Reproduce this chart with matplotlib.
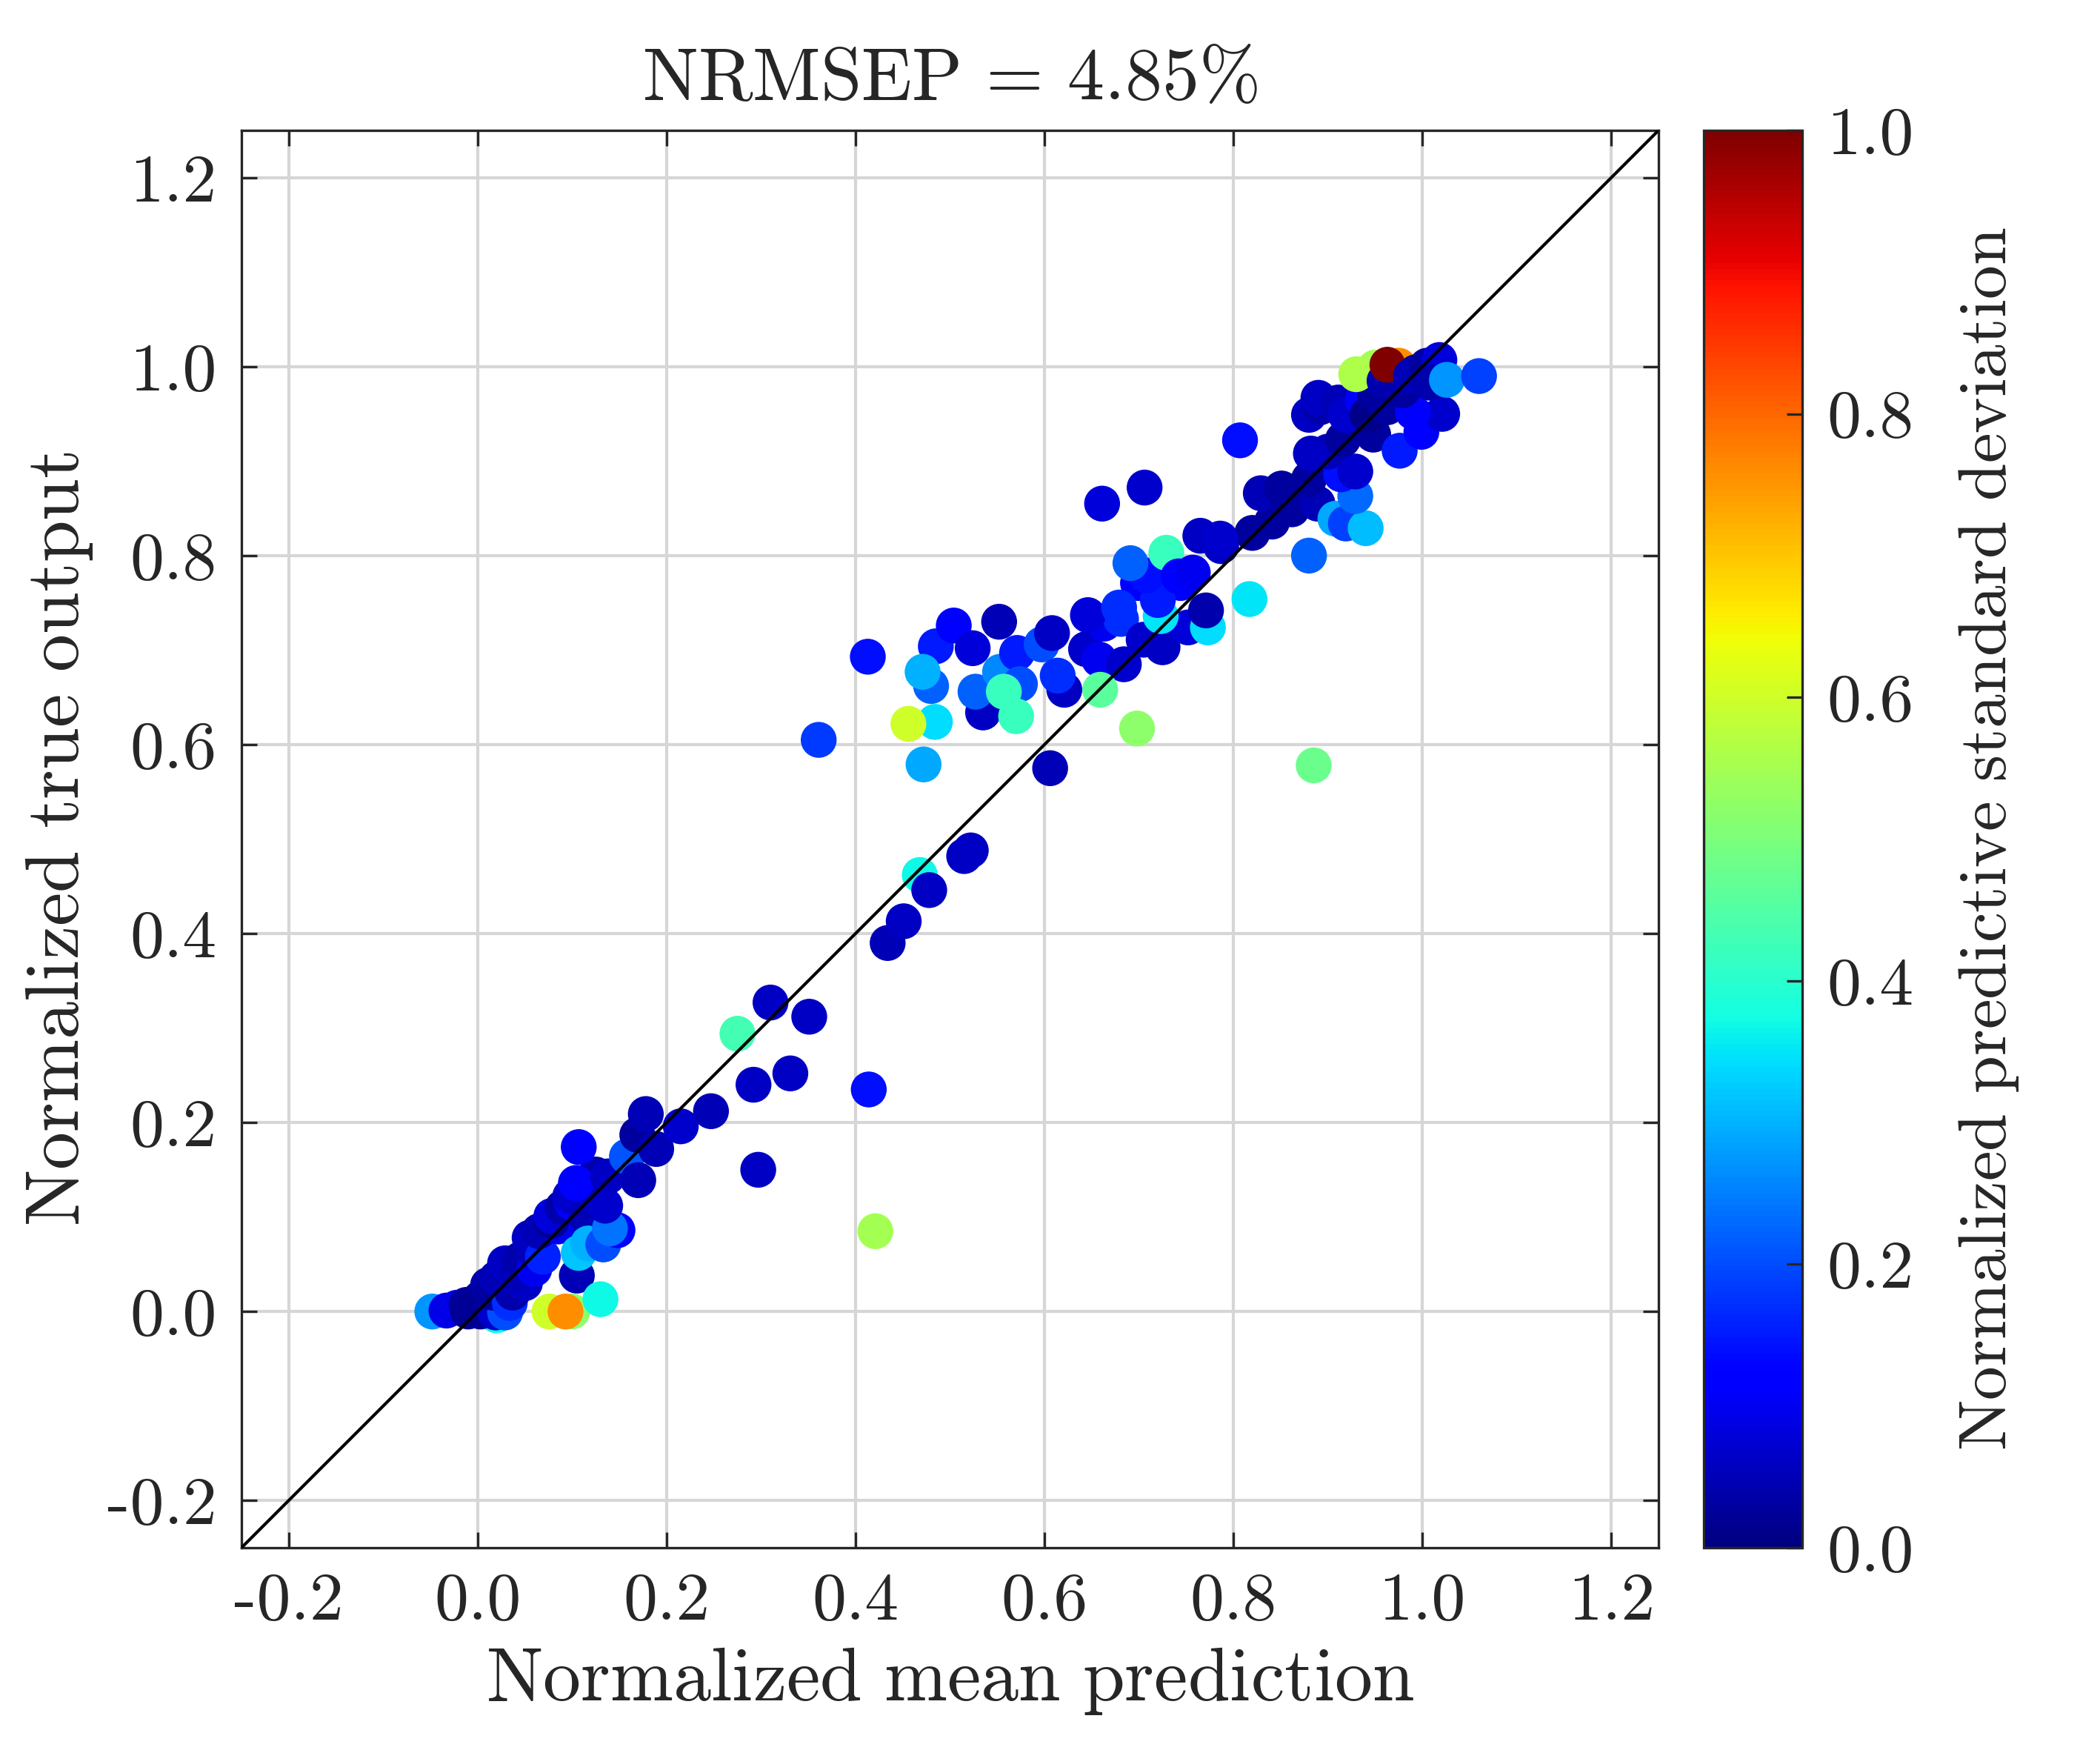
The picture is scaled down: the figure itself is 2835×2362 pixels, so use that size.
import numpy as np
import matplotlib
matplotlib.use("Agg")
import matplotlib.pyplot as plt

plt.rcParams['font.family'] = 'cmr10'
plt.rcParams['mathtext.fontset'] = 'cm'
plt.rcParams['axes.unicode_minus'] = False

# ---- data: (normalized mean prediction, normalized true output, normalized predictive std) ----
points = [
    # lower cluster
    (0.020, -0.004, 0.37), (-0.048, 0.000, 0.27), (-0.033, 0.001, 0.09), (-0.022, 0.004, 0.09),
    (-0.012, 0.007, 0.03), (-0.010, 0.000, 0.02), (0.003, 0.000, 0.02), (0.003, 0.014, 0.02),
    (0.019, -0.001, 0.07), (0.029, -0.001, 0.20), (0.011, 0.028, 0.04), (0.016, 0.020, 0.03),
    (0.034, 0.009, 0.17), (0.037, 0.020, 0.04), (0.020, 0.035, 0.05), (0.050, 0.030, 0.06),
    (0.029, 0.051, 0.06), (0.042, 0.041, 0.05), (0.045, 0.055, 0.04), (0.060, 0.045, 0.10),
    (0.060, 0.065, 0.05), (0.055, 0.078, 0.06), (0.069, 0.058, 0.16), (0.065, 0.085, 0.05),
    (0.085, 0.090, 0.10), (0.078, 0.096, 0.02), (0.078, 0.101, 0.08), (0.090, 0.110, 0.04),
    (0.100, 0.115, 0.12), (0.098, 0.122, 0.07), (0.115, 0.100, 0.05), (0.120, 0.125, 0.06),
    (0.125, 0.145, 0.04), (0.104, 0.136, 0.11), (0.107, 0.174, 0.12), (0.105, 0.038, 0.05),
    (0.107, 0.062, 0.32), (0.117, 0.072, 0.30), (0.133, 0.071, 0.20), (0.148, 0.086, 0.11),
    (0.140, 0.088, 0.24), (0.135, 0.112, 0.07), (0.138, 0.143, 0.06), (0.158, 0.164, 0.21),
    (0.170, 0.139, 0.05), (0.169, 0.187, 0.03), (0.178, 0.209, 0.05), (0.189, 0.172, 0.05),
    (0.100, 0.000, 0.52), (0.076, 0.000, 0.60), (0.093, 0.000, 0.76), (0.130, 0.013, 0.37),
    # middle
    (0.215, 0.196, 0.07), (0.247, 0.212, 0.05), (0.275, 0.294, 0.43), (0.310, 0.327, 0.06),
    (0.351, 0.312, 0.06), (0.292, 0.240, 0.06), (0.331, 0.252, 0.06), (0.297, 0.150, 0.06),
    (0.414, 0.235, 0.14), (0.421, 0.085, 0.55), (0.434, 0.390, 0.05), (0.451, 0.413, 0.06),
    (0.468, 0.462, 0.37), (0.478, 0.446, 0.06), (0.515, 0.482, 0.06), (0.522, 0.488, 0.06),
    (0.361, 0.605, 0.18), (0.413, 0.693, 0.14), (0.485, 0.704, 0.15), (0.504, 0.726, 0.12),
    (0.524, 0.702, 0.08), (0.552, 0.730, 0.05), (0.480, 0.662, 0.22), (0.471, 0.677, 0.30),
    (0.484, 0.624, 0.34), (0.456, 0.622, 0.60), (0.472, 0.579, 0.29), (0.535, 0.634, 0.06),
    (0.527, 0.656, 0.22), (0.553, 0.677, 0.26), (0.571, 0.697, 0.15), (0.574, 0.664, 0.20),
    (0.557, 0.656, 0.42), (0.570, 0.630, 0.42), (0.597, 0.706, 0.20), (0.608, 0.718, 0.06),
    (0.621, 0.658, 0.06), (0.614, 0.673, 0.17), (0.606, 0.575, 0.05), (0.644, 0.701, 0.07),
    (0.658, 0.690, 0.10), (0.663, 0.728, 0.10), (0.681, 0.733, 0.17), (0.684, 0.685, 0.07),
    (0.659, 0.658, 0.46), (0.698, 0.617, 0.52), (0.705, 0.711, 0.07), (0.725, 0.703, 0.06),
    (0.752, 0.724, 0.08), (0.773, 0.724, 0.34), (0.771, 0.742, 0.04), (0.699, 0.771, 0.12),
    (0.744, 0.771, 0.12), (0.723, 0.736, 0.35), (0.720, 0.753, 0.15), (0.646, 0.737, 0.08),
    (0.679, 0.745, 0.17), (0.708, 0.779, 0.14), (0.691, 0.792, 0.22), (0.729, 0.803, 0.42),
    (0.742, 0.778, 0.12), (0.757, 0.782, 0.10), (0.765, 0.821, 0.06), (0.787, 0.810, 0.06),
    (0.817, 0.754, 0.35), (0.885, 0.578, 0.48), (0.661, 0.855, 0.08), (0.706, 0.872, 0.07),
    (0.807, 0.922, 0.14),
    # upper cluster
    (0.820, 0.824, 0.03), (0.841, 0.836, 0.03), (0.829, 0.866, 0.05), (0.851, 0.871, 0.03),
    (0.862, 0.849, 0.03), (0.889, 0.855, 0.05), (0.880, 0.881, 0.03), (0.786, 0.818, 0.07),
    (0.880, 0.800, 0.22), (0.908, 0.839, 0.29), (0.919, 0.834, 0.19), (0.940, 0.829, 0.31),
    (0.929, 0.863, 0.23), (0.914, 0.886, 0.14), (0.929, 0.889, 0.07), (0.900, 0.910, 0.05),
    (0.882, 0.908, 0.06), (0.916, 0.923, 0.03), (0.948, 0.928, 0.03), (0.880, 0.949, 0.06),
    (0.892, 0.957, 0.04), (0.890, 0.967, 0.06), (0.911, 0.962, 0.05), (0.919, 0.949, 0.07),
    (0.937, 0.965, 0.11), (0.942, 0.949, 0.01), (0.963, 0.957, 0.03), (0.976, 0.911, 0.15),
    (0.999, 0.931, 0.12), (1.003, 0.944, 0.12), (1.021, 0.950, 0.07), (0.990, 0.952, 0.11),
    (0.979, 0.975, 0.03), (0.950, 0.970, 0.03), (0.975, 1.001, 0.76), (0.950, 0.999, 0.55),
    (0.930, 0.992, 0.56), (0.960, 0.985, 0.04), (0.963, 1.002, 1.00), (0.993, 0.994, 0.03),
    (0.988, 0.990, 0.05), (1.005, 1.001, 0.03), (1.018, 1.007, 0.08), (1.008, 0.983, 0.04),
    (1.026, 0.986, 0.27), (1.060, 0.990, 0.19),
]
x_pred = [p[0] for p in points]
y_true = [p[1] for p in points]
sigma = [p[2] for p in points]

tick_vals = [-0.2, 0.0, 0.2, 0.4, 0.6, 0.8, 1.0, 1.2]
tick_labels = ['-0.2', '0.0', '0.2', '0.4', '0.6', '0.8', '1.0', '1.2']
cb_ticks = [0.0, 0.2, 0.4, 0.6, 0.8, 1.0]
cb_labels = ['0.0', '0.2', '0.4', '0.6', '0.8', '1.0']
lims = [-0.25, 1.25]
title_text = r'$\mathrm{NRMSEP}\,=\,4.85\%$'

TXT = '#262626'
W, H = 2835, 2362
fig = plt.figure(figsize=(W / 300, H / 300), dpi=300)

ax = fig.add_axes([326 / W, 1 - 2089 / H, (2239 - 326) / W, (2089 - 176) / H])
ax.set_xlim(lims)
ax.set_ylim(lims)
ax.grid(True, color='#d6d6d6', linewidth=1.0, zorder=0)
ax.set_axisbelow(True)

sc = ax.scatter(x_pred, y_true, c=sigma, cmap='jet', vmin=0, vmax=1,
                s=135, edgecolors='none', zorder=2)
ax.plot(lims, lims, color='black', linewidth=1.0, zorder=3)

ax.set_xticks(tick_vals)
ax.set_xticklabels(tick_labels)
ax.set_yticks(tick_vals)
ax.set_yticklabels(tick_labels)
ax.tick_params(direction='in', length=5, width=0.8, colors=TXT, labelsize=22,
               top=True, right=True, pad=8)
for sp in ax.spines.values():
    sp.set_color(TXT)
    sp.set_linewidth(0.8)

ax.set_xlabel(r'$\mathrm{Normalized\ mean\ prediction}$', fontsize=24.5, color=TXT, labelpad=4)
ax.set_ylabel(r'$\mathrm{Normalized\ true\ output}$', fontsize=24.5, color=TXT, labelpad=4)
ax.set_title(title_text, fontsize=24, color=TXT, pad=10)

cax = fig.add_axes([2300 / W, 1 - 2089 / H, (2433 - 2300) / W, (2089 - 176) / H])
cb = fig.colorbar(sc, cax=cax)
cb.set_ticks(cb_ticks)
cb.set_ticklabels(cb_labels)
cb.ax.tick_params(direction='in', length=5, width=0.8, colors=TXT, labelsize=22, pad=8)
cb.outline.set_edgecolor(TXT)
cb.outline.set_linewidth(0.8)
cb.set_label(r'$\mathrm{Normalized\ predictive\ standard\ deviation}$', fontsize=22,
             color=TXT, labelpad=14)

fig.savefig('out.png', dpi=300, facecolor='white')
